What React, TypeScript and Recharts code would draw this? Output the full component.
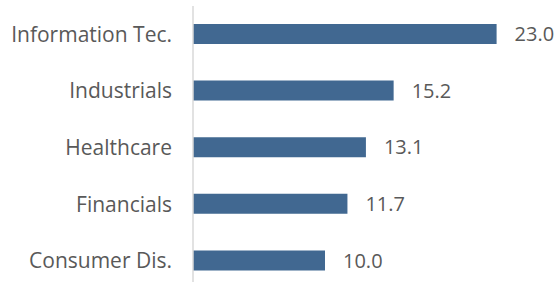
import { BarChart, Bar, XAxis, YAxis, LabelList } from "recharts";

const sectors = ["Information Tec.", "Industrials", "Healthcare", "Financials", "Consumer Dis."];
const weights = [23.0, 15.2, 13.1, 11.7, 10.0];

const data = sectors.map((sector, i) => ({ sector, weight: weights[i] }));

const font = "'Open Sans', sans-serif";

export default function App() {
  return (
    <div style={{ position: "absolute", left: 0, top: 0, width: 559, height: 282, overflow: "hidden", background: "#fff" }}>
      <BarChart
        width={559}
        height={289}
        data={data}
        layout="vertical"
        barCategoryGap={18}
        margin={{ top: 6, right: 36, bottom: 0, left: 0 }}
      >
        <XAxis type="number" domain={[0, 25]} hide />
        <YAxis
          type="category"
          dataKey="sector"
          width={193}
          tickSize={0}
          tickMargin={21}
          axisLine={{ stroke: "#d9d9d9", strokeWidth: 1.5 }}
          tickLine={false}
          tick={{ fill: "#595959", fontSize: 21, fontFamily: font }}
        />
        <Bar dataKey="weight" fill="#416891" barSize={20} isAnimationActive={false}>
          <LabelList
            dataKey="weight"
            position="right"
            offset={18}
            formatter={(v: number) => v.toFixed(1)}
            style={{ fill: "#595959", fontSize: 20, fontFamily: font }}
          />
        </Bar>
      </BarChart>
    </div>
  );
}
